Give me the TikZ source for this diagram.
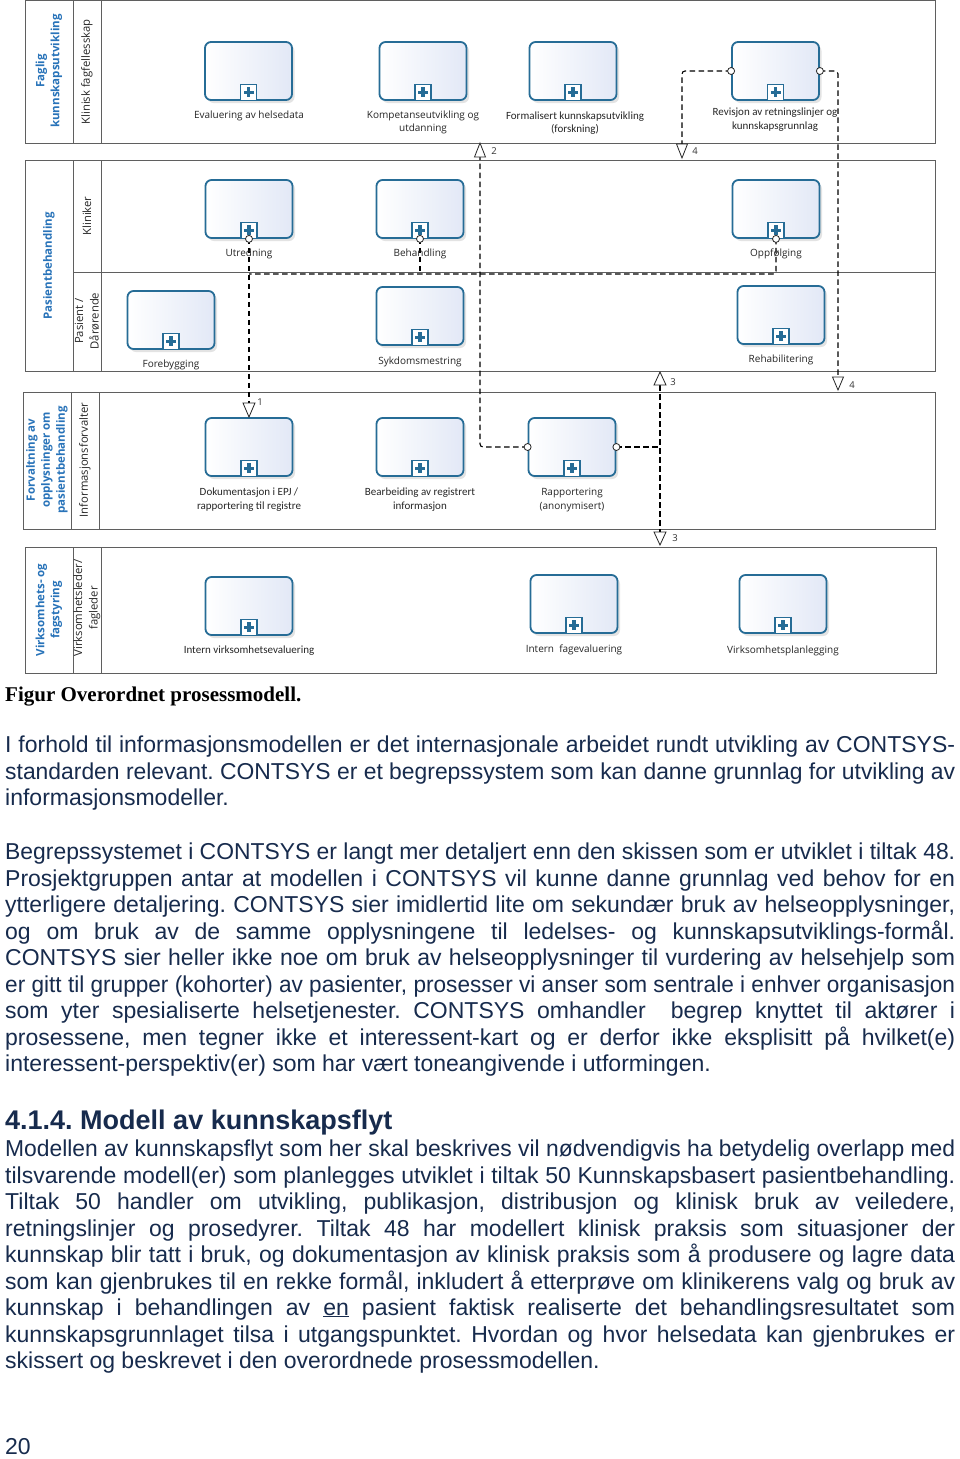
\documentclass[tikz,border=0pt]{standalone}
\usepackage{fontspec}
\usepackage{graphicx}
\usetikzlibrary{shadows,calc}
\setmainfont{Liberation Sans}
\newfontfamily\diagfont{Open Sans}
\newfontfamily\calfont{Carlito}
\newfontfamily\serifb{Liberation Serif}
\definecolor{taskblue}{RGB}{38,108,150}
\definecolor{poolblue}{RGB}{40,115,185}
\definecolor{navy}{RGB}{23,43,77}
\definecolor{taskfill}{RGB}{226,232,246}
\definecolor{poolline}{RGB}{95,95,95}
\frenchspacing
\newlength\jlw
\newcommand\jline[1]{\settowidth\jlw{#1}\ifdim\jlw>950pt \resizebox{950pt}{\height}{#1}\else\hbox to 950pt{#1}\fi}
\tikzset{
  taskbox/.style={draw=taskblue, line width=1.8pt, rounded corners=6pt, minimum width=87pt, minimum height=58pt, inner sep=0pt, left color=white, right color=taskfill, drop shadow={opacity=0.18, shadow xshift=2.5pt, shadow yshift=-3pt, fill=black!60}},
  plusbox/.style={draw=taskblue, line width=1.3pt, fill=white, minimum size=16pt, inner sep=0pt,
    path picture={\fill[taskblue] ($(path picture bounding box.center)+(-5pt,-1.7pt)$) rectangle ++(10pt,3.4pt);
                  \fill[taskblue] ($(path picture bounding box.center)+(-1.7pt,-5pt)$) rectangle ++(3.4pt,10pt);}},
  tlabel/.style={font=\diagfont\fontsize{10}{13.5}\selectfont, align=center, text=black!85, inner sep=0pt},
  clabel/.style={font=\calfont\fontsize{11}{13.5}\selectfont, align=center, text=black!85, inner sep=0pt},
  pool/.style={draw=poolline, line width=1pt},
  poollabel/.style={font=\diagfont\bfseries\fontsize{11.5}{15}\selectfont, text=poolblue, align=center, rotate=90, inner sep=0pt},
  lanelabel/.style={font=\diagfont\fontsize{11.3}{15.5}\selectfont, text=black!85, align=center, rotate=90, inner sep=0pt},
  port/.style={circle, draw=black!85, fill=white, minimum size=7pt, inner sep=0pt, line width=0.8pt},
  flow/.style={draw=black, line width=1.1pt, dash pattern=on 5.5pt off 3.5pt, rounded corners=3pt},
  tri/.style={draw=black!85, fill=white, line width=0.8pt, line join=miter},
  numlabel/.style={font=\diagfont\fontsize{9.5}{11}\selectfont, text=black!80, inner sep=0pt},
  body/.style={font=\fontsize{23}{26.5}\selectfont, text=navy, inner sep=0pt, anchor=base west},
}
\newcommand\mytask[3]{%
  \node[taskbox] (#1) at (#2,#3) {};
  \node[plusbox, anchor=south] (#1p) at (#1.south) {};
}
\begin{document}
\begin{tikzpicture}[x=1pt,y=-1pt]
\useasboundingbox (0,0) rectangle (960,1459);
\fill[white] (0,0) rectangle (960,1459);

% ---------- pools ----------
\draw[pool] (25,0.5) rectangle (935,143);
\draw[pool] (73,0.5) -- (73,143);
\draw[pool] (101,0.5) -- (101,143);
\node[poollabel] (p1) at (49,71) {Faglig\\kunnskapsutvikling};
\node[lanelabel] (l1) at (87,72) {Klinisk fagfellesskap};

\draw[pool] (25,160) rectangle (935,371);
\draw[pool] (73,160) -- (73,371);
\draw[pool] (101,160) -- (101,371);
\draw[pool] (73,272) -- (935,272);
\node[poollabel] (p2) at (49,266) {Pasientbehandling};
\node[lanelabel] (l2a) at (87,216) {Kliniker};
\node[lanelabel] (l2b) at (87,321) {Pasient /\\Dårørende};

\draw[pool] (23,392) rectangle (935,529);
\draw[pool] (71,392) -- (71,529);
\draw[pool] (99,392) -- (99,529);
\node[poollabel] (p3) at (47,460) {Forvaltning av\\opplysninger om\\pasientbehandling};
\node[lanelabel] (l3) at (85,460) {Informasjonsforvalter};

\draw[pool] (25,547) rectangle (936,673);
\draw[pool] (73,547) -- (73,673);
\draw[pool] (101,547) -- (101,673);
\node[poollabel] (p4) at (49,610) {Virksomhets- og\\fagstyring};
\node[lanelabel] (l4) at (87,608) {Virksomhetsleder/\\fagleder};

% ---------- tasks ----------
\mytask{eval}{248.5}{71}
\mytask{komp}{423}{71}
\mytask{form}{573}{71}
\mytask{rev}{775.5}{71}
\mytask{utr}{249}{209}
\mytask{beh}{420}{209}
\mytask{opp}{776}{209}
\mytask{fore}{171}{320}
\mytask{syk}{420}{316}
\mytask{reh}{781}{315}
\mytask{dok}{249}{447}
\mytask{bear}{420}{447}
\mytask{rap}{572}{447}
\mytask{ivirk}{249}{606}
\mytask{ifag}{574}{604}
\mytask{vplan}{783}{604}

% ---------- connectors ----------
\coordinate (j1) at (249,274);
\coordinate (j2) at (420,274);
\coordinate (j3) at (776,274);
\coordinate (t1) at (249,403);
\coordinate (t2) at (480,157);
\coordinate (c2) at (480,447);
\coordinate (c3) at (660,447);
\coordinate (t3u) at (660,385);
\coordinate (t3d) at (660,532);
\coordinate (c4a) at (682,71);
\coordinate (t4a) at (682,144);
\coordinate (c4b) at (838,71);
\coordinate (t4b) at (838,377);

\path[flow] (utr.south) -- (t1);
\path[flow] (beh.south) -- (j2);
\path[flow] (opp.south) -- (j3) -- (j1);
\path[flow] (rap.west) -- (c2) -- (t2);
\path[flow] (rap.east) -- (c3);
\path[flow] (t3u) -- (t3d);
\path[flow] (rev.west) -- (c4a) -- (t4a);
\path[flow] (rev.east) -- (c4b) -- (t4b);

% ---------- labels ----------
\node[tlabel] (evalL) at (249,116) {Evaluering av helsedata};
\node[tlabel] (kompL) at (423,122.5) {Kompetanseutvikling og\\utdanning};
\node[clabel] (formL) at (575,123) {Formalisert kunnskapsutvikling\\(forskning)};
\node[clabel] (revL) at (775,119.5) {Revisjon av retningslinjer og\\kunnskapsgrunnlag};
\node[tlabel] (utrL) at (249,254) {Utredning};
\node[tlabel] (behL) at (420,254) {Behandling};
\node[tlabel] (oppL) at (776,254) {Oppfølging};
\node[tlabel] (foreL) at (171,365) {Forebygging};
\node[tlabel] (sykL) at (420,362) {Sykdomsmestring};
\node[tlabel] (rehL) at (781,360) {Rehabilitering};
\node[clabel] (dokL) at (249,499.5) {Dokumentasjon i EPJ /\\rapportering til registre};
\node[clabel] (bearL) at (420,499.5) {Bearbeiding av registrert\\informasjon};
\node[tlabel] (rapL) at (572,500) {Rapportering\\(anonymisert)};
\node[clabel] (ivirkL) at (249,651) {Intern virksomhetsevaluering};
\node[tlabel] (ifagL) at (574,650) {Intern\ \ fagevaluering};
\node[tlabel] (vplanL) at (783,651) {Virksomhetsplanlegging};

% ---------- ports ----------
\node[port] (utrc) at (utr.south) {};
\node[port] (behc) at (beh.south) {};
\node[port] (oppc) at (opp.south) {};
\node[port] (rapl) at (rap.west) {};
\node[port] (rapr) at (rap.east) {};
\node[port] (revl) at (rev.west) {};
\node[port] (revr) at (rev.east) {};

% ---------- triangles ----------
\draw[tri] (t1) ++(-6,0) -- ++(12,0) -- ++(-6,14) -- cycle;
\draw[tri] (t2) ++(-5.5,0) -- ++(11,0) -- ++(-5.5,-14) -- cycle;
\draw[tri] (t4a) ++(-5.5,0) -- ++(11,0) -- ++(-5.5,14) -- cycle;
\draw[tri] (t3u) ++(-6,0) -- ++(12,0) -- ++(-6,-13) -- cycle;
\draw[tri] (t3d) ++(-6,0) -- ++(12,0) -- ++(-6,13) -- cycle;
\draw[tri] (t4b) ++(-5.5,0) -- ++(11,0) -- ++(-5.5,13) -- cycle;
\node[numlabel] (n1) at (260,402) {1};
\node[numlabel] (n2) at (494,151) {2};
\node[numlabel] (n4a) at (695,151) {4};
\node[numlabel] (n3a) at (673,382) {3};
\node[numlabel] (n3b) at (675,538) {3};
\node[numlabel] (n4b) at (852,385) {4};

% ---------- text ----------
\node[anchor=base west, inner sep=0pt, font=\serifb\bfseries\fontsize{21}{24}\selectfont] (cap) at (5,701) {Figur Overordnet prosessmodell.};

\node[body] (a1) at (5,752) {\jline{I forhold til informasjonsmodellen er det internasjonale arbeidet rundt utvikling av CONTSYS-}};
\node[body] (a2) at (5,779) {\jline{standarden relevant. CONTSYS er et begrepssystem som kan danne grunnlag for utvikling av}};
\node[body] (a3) at (5,805) {informasjonsmodeller.};

\node[body] (b1) at (5,859) {\jline{Begrepssystemet i CONTSYS er langt mer detaljert enn den skissen som er utviklet i tiltak 48.}};
\node[body] (b2) at (5,886) {\jline{Prosjektgruppen antar at modellen i CONTSYS vil kunne danne grunnlag ved behov for en}};
\node[body] (b3) at (5,912) {\jline{ytterligere detaljering. CONTSYS sier imidlertid lite om sekundær bruk av helseopplysninger,}};
\node[body] (b4) at (5,939) {\jline{og om bruk av de samme opplysningene til ledelses- og kunnskapsutviklings-formål.}};
\node[body] (b5) at (5,965) {\jline{CONTSYS sier heller ikke noe om bruk av helseopplysninger til vurdering av helsehjelp som}};
\node[body] (b6) at (5,992) {\jline{er gitt til grupper (kohorter) av pasienter, prosesser vi anser som sentrale i enhver organisasjon}};
\node[body] (b7) at (5,1018) {\jline{som yter spesialiserte helsetjenester. CONTSYS omhandler \ begrep knyttet til aktører i}};
\node[body] (b8) at (5,1045) {\jline{prosessene, men tegner ikke et interessent-kart og er derfor ikke eksplisitt på hvilket(e)}};
\node[body] (b9) at (5,1071) {interessent-perspektiv(er) som har vært toneangivende i utformingen.};

\node[anchor=base west, inner sep=0pt, text=navy, font=\bfseries\fontsize{27}{30}\selectfont] (h) at (5,1129) {4.1.4. Modell av kunnskapsflyt};

\node[body] (c1) at (5,1156) {\jline{Modellen av kunnskapsflyt som her skal beskrives vil nødvendigvis ha betydelig overlapp med}};
\node[body] (c2t) at (5,1183) {\jline{tilsvarende modell(er) som planlegges utviklet i tiltak 50 Kunnskapsbasert pasientbehandling.}};
\node[body] (c3t) at (5,1209) {\jline{Tiltak 50 handler om utvikling, publikasjon, distribusjon og klinisk bruk av veiledere,}};
\node[body] (c4) at (5,1236) {\jline{retningslinjer og prosedyrer. Tiltak 48 har modellert klinisk praksis som situasjoner der}};
\node[body] (c5) at (5,1262) {\jline{kunnskap blir tatt i bruk, og dokumentasjon av klinisk praksis som å produsere og lagre data}};
\node[body] (c6) at (5,1289) {\jline{som kan gjenbrukes til en rekke formål, inkludert å etterprøve om klinikerens valg og bruk av}};
\node[body] (c7) at (5,1315) {\jline{kunnskap i behandlingen av \underline{en} pasient faktisk realiserte det behandlingsresultatet som}};
\node[body] (c8) at (5,1342) {\jline{kunnskapsgrunnlaget tilsa i utgangspunktet. Hvordan og hvor helsedata kan gjenbrukes er}};
\node[body] (c9) at (5,1368) {skissert og beskrevet i den overordnede prosessmodellen.};

\node[body] (pg) at (5,1454) {20};
\end{tikzpicture}
\end{document}
